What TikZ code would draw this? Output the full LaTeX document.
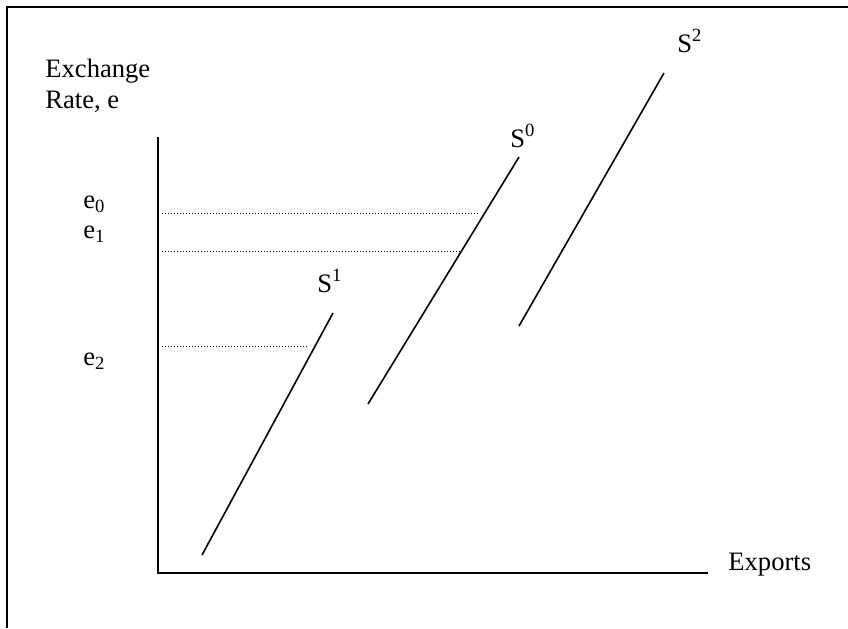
\documentclass[tikz,border=0pt]{standalone}
\usepackage{fontspec}
\setmainfont{Liberation Serif}
\usepackage{tikz}
\usetikzlibrary{positioning}

\tikzset{
  lbl/.style={font=\fontsize{13.3}{16}\selectfont, inner sep=0pt, anchor=base west},
  axisline/.style={line width=1pt},
  supply/.style={line width=0.8pt},
  guide/.style={line width=0.5pt, dash pattern=on 0.5pt off 1pt}
}

\begin{document}
\begin{tikzpicture}[x=0.5pt,y=-0.5pt]
  \useasboundingbox (0,0) rectangle (848,628);
  % frame
  \draw[axisline] (7,628) -- (7,7) -- (848,7);

  % axes
  \coordinate (top) at (158,137);
  \coordinate (origin) at (158,573);
  \coordinate (right) at (708,573);
  \draw[axisline] (top) -- (origin) -- (right);
  \node[lbl] (yname) at (45,77) {Exchange};
  \node[lbl] (yname2) at (45,108) {Rate, e};
  \node[lbl] (xname) at (728,570) {Exports};

  % supply curves
  \coordinate (s1a) at (202,555);
  \coordinate (s1b) at (333,313);
  \coordinate (s0a) at (368,404);
  \coordinate (s0b) at (519,157);
  \coordinate (s2a) at (519,326);
  \coordinate (s2b) at (664,73);
  \draw[supply] (s1a) -- (s1b);
  \draw[supply] (s0a) -- (s0b);
  \draw[supply] (s2a) -- (s2b);
  \node[lbl] (S1) at (317,292) {S\textsuperscript{1}};
  \node[lbl] (S0) at (510,147) {S\textsuperscript{0}};
  \node[lbl] (S2) at (677,52) {S\textsuperscript{2}};

  % exchange rates
  \node[lbl] (e0) at (83,208) {e\textsubscript{0}};
  \node[lbl] (e1) at (83,238) {e\textsubscript{1}};
  \node[lbl] (e2) at (83,365) {e\textsubscript{2}};
  \draw[guide] (162,213) -- (480,213);
  \draw[guide] (162,251) -- (460,251);
  \draw[guide] (162,346) -- (308,346);
\end{tikzpicture}
\end{document}
